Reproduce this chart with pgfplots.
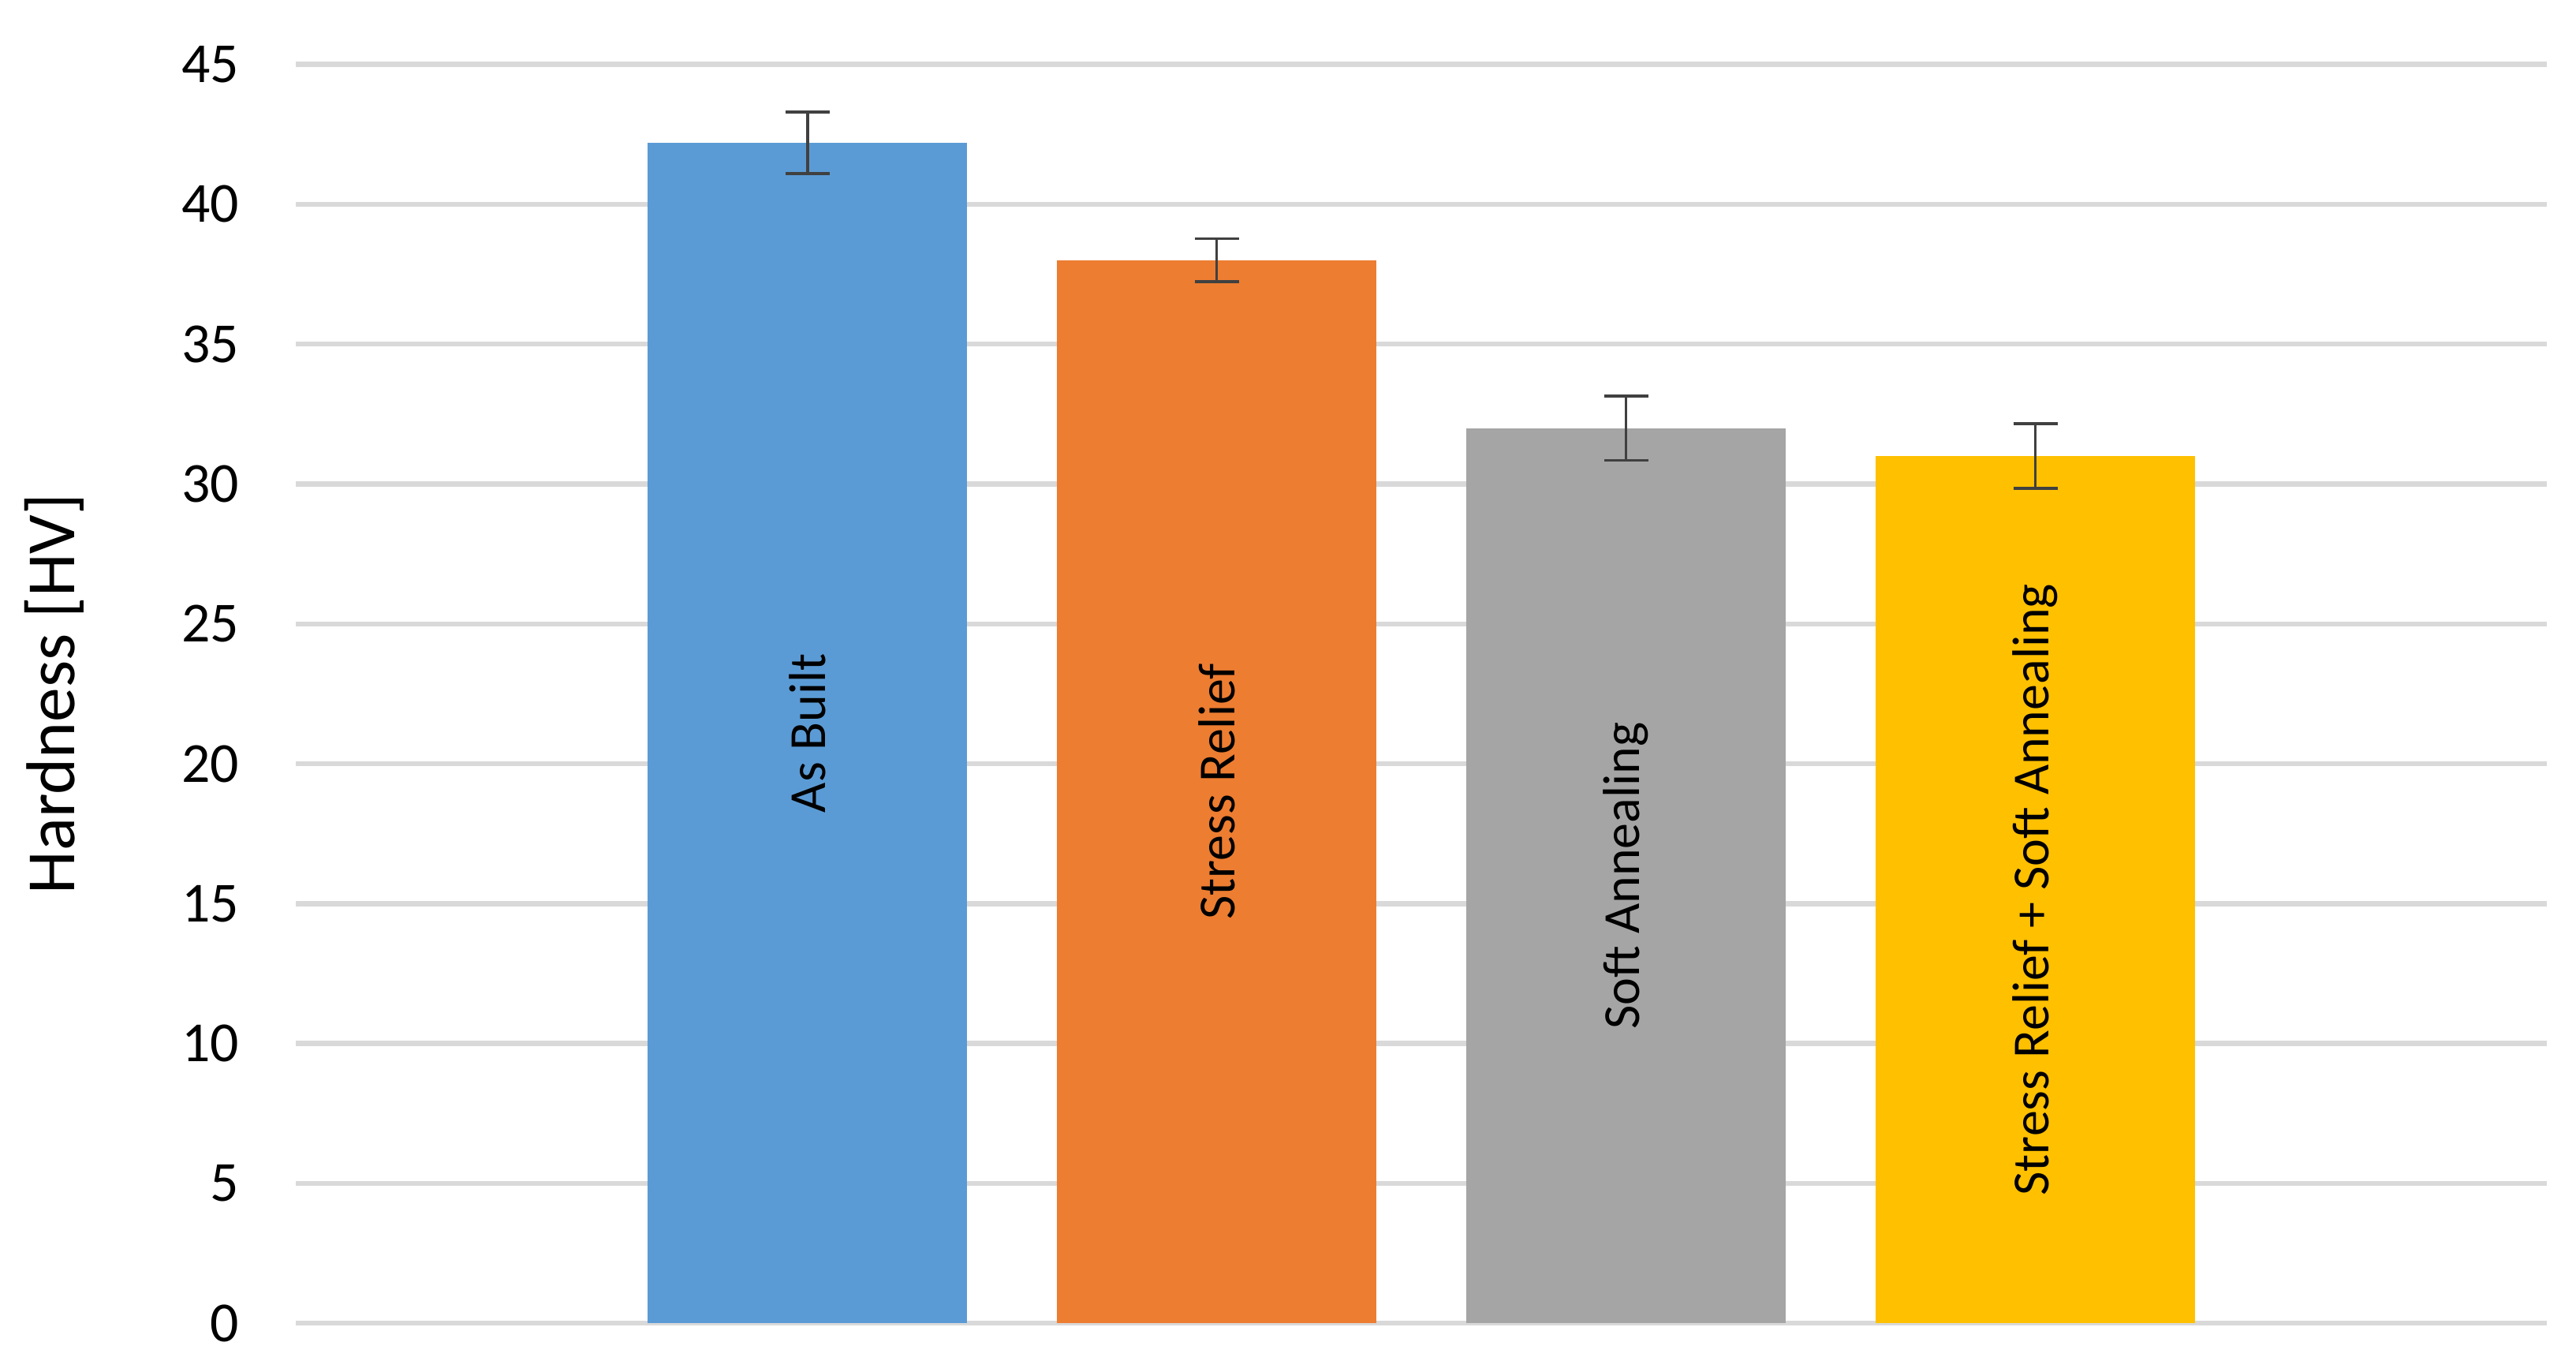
\documentclass[border=0pt]{standalone}
\usepackage{fontspec}
\setmainfont{Carlito}
\usepackage{pgfplots}
\pgfplotsset{compat=1.18}
\definecolor{barBlue}{HTML}{5B9BD5}
\definecolor{barOrange}{HTML}{ED7D31}
\definecolor{barGray}{HTML}{A5A5A5}
\definecolor{barGold}{HTML}{FFC000}
\definecolor{gridGray}{HTML}{D9D9D9}
\definecolor{errGray}{HTML}{404040}

\begin{document}
\begin{tikzpicture}
\begin{axis}[
  scale only axis,
  width=13.98cm,
  height=7.815cm,
  xmin=-1.25, xmax=4.25,
  ymin=0, ymax=45,
  ytick={0,5,...,45},
  xtick=\empty,
  axis line style={draw=none},
  major tick length=0pt,
  ymajorgrids=true,
  grid style={draw=gridGray, line width=0.9pt},
  /pgf/number format/assume math mode=true,
  yticklabel style={font=\fontsize{10}{12}\selectfont, xshift=-0.23cm},
  ylabel={Hardness [HV]},
  ylabel style={font=\fontsize{12.2}{14}\selectfont,
                at={(axis description cs:-0.1073,0.5)}, anchor=center},
  ybar,
  bar width=0.78,
  bar shift=0pt,
  clip=false,
  error bars/error bar style={draw=errGray, line width=0.5pt},
  error bars/error mark options={draw=errGray, rotate=90, mark size=3.9pt, line width=0.5pt},
]
\addplot[fill=barBlue, draw=none,
  error bars/.cd, y dir=both, y explicit] coordinates {(0,42.2) +- (0,1.1)};
\addplot[fill=barOrange, draw=none,
  error bars/.cd, y dir=both, y explicit] coordinates {(1,38.0) +- (0,0.77)};
\addplot[fill=barGray, draw=none,
  error bars/.cd, y dir=both, y explicit] coordinates {(2,32.0) +- (0,1.15)};
\addplot[fill=barGold, draw=none,
  error bars/.cd, y dir=both, y explicit] coordinates {(3,31.0) +- (0,1.15)};

\node[rotate=90, font=\fontsize{9.2}{11}\selectfont] at (axis cs:0,21.1) {As Built};
\node[rotate=90, font=\fontsize{9.2}{11}\selectfont] at (axis cs:1,19.0) {Stress Relief};
\node[rotate=90, font=\fontsize{9.2}{11}\selectfont] at (axis cs:2,16.0) {Soft Annealing};
\node[rotate=90, font=\fontsize{9.2}{11}\selectfont] at (axis cs:3,15.5) {Stress Relief + Soft Annealing};

% page frame
\path ([xshift=-1.837cm, yshift=-0.30cm]rel axis cs:0,0)
  rectangle ([xshift=0.18cm, yshift=0.40cm]rel axis cs:1,1);
\end{axis}
\end{tikzpicture}
\end{document}
